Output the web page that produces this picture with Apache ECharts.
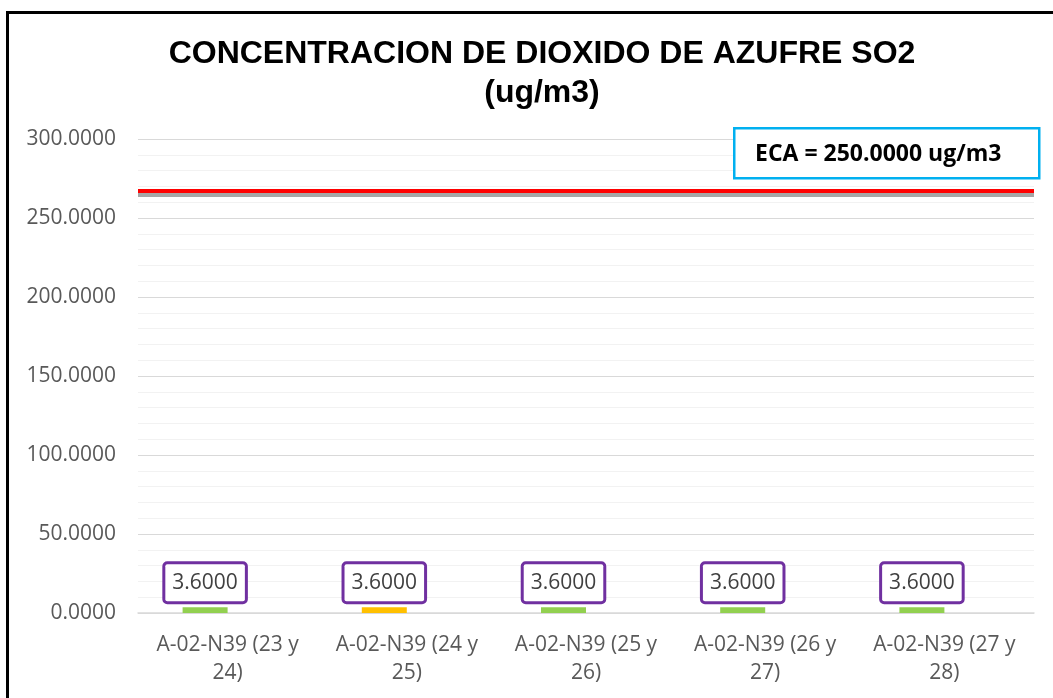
<!DOCTYPE html>
<html>
<head>
<meta charset="utf-8">
<script src="https://cdn.jsdelivr.net/npm/echarts@6/dist/echarts.min.js"></script>
<style>
  html, body { margin: 0; padding: 0; background: #fff; overflow: hidden; }
  #chart { width: 1053px; height: 698px; }
  /* black frame of the original sheet, only top and left edges visible */
  #frame { position: absolute; left: 6px; top: 11px; width: 1200px; height: 900px;
           border: 3px solid #000; pointer-events: none; }
</style>
</head>
<body>
<div id="chart"></div>
<div id="frame"></div>
<script>
// data
const categories = [
  "A-02-N39 (23 y\n24)",
  "A-02-N39 (24 y\n25)",
  "A-02-N39 (25 y\n26)",
  "A-02-N39 (26 y\n27)",
  "A-02-N39 (27 y\n28)"
];
const so2Values = [3.6, 3.6, 3.6, 3.6, 3.6];
const barColors = ["#92D050", "#FFC000", "#92D050", "#92D050", "#92D050"];
const ecaSlot = [null, null, null, null, null]; // empty second slot next to each bar
const ecaLineValue = 267; // where the red line is drawn
const ecaText = "ECA = 250.0000 ug/m3";

const chart = echarts.init(document.getElementById("chart"));

const option = {
  animation: false,
  title: {
    text: "CONCENTRACION DE DIOXIDO DE AZUFRE SO2\n(ug/m3)",
    left: 537,
    top: 30,
    textAlign: "center",
    textStyle: {
      fontFamily: "Liberation Sans, Arial, sans-serif",
      fontSize: 32,
      fontWeight: "bold",
      color: "#000",
      lineHeight: 39
    }
  },
  grid: {
    left: 138,
    right: 19,
    top: 139,
    bottom: 85,
    containLabel: false
  },
  xAxis: {
    type: "category",
    data: categories,
    axisTick: { show: false },
    axisLine: { lineStyle: { color: "#D9D9D9", width: 1.5 } },
    axisLabel: {
      color: "#595959",
      fontFamily: "Open Sans, sans-serif",
      fontSize: 21,
      lineHeight: 28,
      margin: 18,
      interval: 0
    }
  },
  yAxis: {
    type: "value",
    min: 0,
    max: 300,
    interval: 50,
    axisLine: { show: false },
    axisTick: { show: false },
    minorTick: { show: false, splitNumber: 5 },
    minorSplitLine: { show: true, lineStyle: { color: "#F2F2F2", width: 1 } },
    splitLine: { lineStyle: { color: "#D9D9D9", width: 1 } },
    axisLabel: {
      color: "#595959",
      fontFamily: "Open Sans, sans-serif",
      fontSize: 21,
      margin: 22,
      formatter: (v) => v.toFixed(4)
    }
  },
  series: [
    {
      name: "SO2",
      type: "bar",
      barWidth: 45,
      barGap: "0%",
      data: so2Values.map((v, i) => ({ value: v, itemStyle: { color: barColors[i] } })),
      label: {
        show: true,
        position: "top",
        distance: 6,
        formatter: (p) => p.value.toFixed(4),
        color: "#404040",
        fontFamily: "Open Sans, sans-serif",
        fontSize: 21,
        lineHeight: 26,
        borderColor: "#7030A0",
        borderWidth: 3,
        borderRadius: 2,
        padding: [6, 7, 5, 7],
        backgroundColor: "#fff"
      }
    },
    {
      name: "ECA",
      type: "bar",
      barWidth: 45,
      data: ecaSlot,
      markLine: {
        silent: true,
        symbol: "none",
        label: { show: false },
        lineStyle: {
          color: "#FF0000",
          width: 4,
          type: "solid",
          shadowColor: "#A6A6A6",
          shadowOffsetY: 4,
          shadowBlur: 0
        },
        data: [{ yAxis: ecaLineValue }]
      }
    }
  ],
  graphic: [
    {
      type: "rect",
      left: 733,
      top: 127,
      shape: { width: 305, height: 50 },
      style: { fill: "#fff", stroke: "#00B0F0", lineWidth: 2.5 },
      z: 10
    },
    {
      type: "text",
      left: 755,
      top: 143,
      style: {
        text: ecaText,
        fill: "#000",
        font: "bold 23px 'Open Sans', sans-serif"
      },
      z: 11
    }
  ]
};

chart.setOption(option);
</script>
</body>
</html>
